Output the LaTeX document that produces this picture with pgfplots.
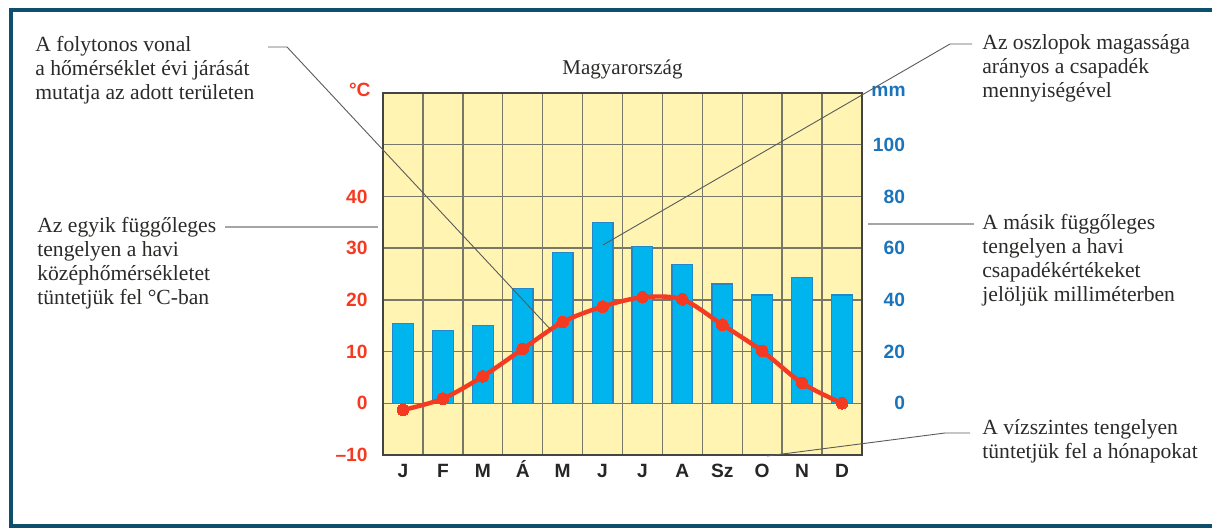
\documentclass[border=0pt]{standalone}
\usepackage{pgfplots}
\pgfplotsset{compat=1.18}
\usepackage{pgfplotstable}
\usepackage{fontspec}
\setmainfont{Liberation Serif}
\setsansfont{Liberation Sans}
\definecolor{tred}{HTML}{F53A22}
\definecolor{pblue}{HTML}{1A74BB}
\definecolor{barfill}{HTML}{00B5EE}
\definecolor{barline}{HTML}{2388C9}
\definecolor{bgc}{HTML}{FFF4B2}
\definecolor{gridc}{HTML}{77776A}
\definecolor{axc}{HTML}{444444}
\definecolor{framec}{HTML}{0E4F6E}
\definecolor{txt}{HTML}{2B2A29}
\definecolor{leadc}{HTML}{5A5A5A}
\definecolor{leadl}{HTML}{A5A5A5}
\pgfplotstableread{
m t p
0 -1.3 30.7
1 0.9 28.3
2 5.2 30.2
3 10.5 44.4
4 15.7 58.3
5 18.7 69.8
6 20.5 60.5
7 20.1 53.6
8 15.2 46.1
9 10.1 41.9
10 3.9 48.6
11 0.0 41.9
}\climate
\begin{document}
\begin{tikzpicture}
\path[use as bounding box] (0pt,0pt) rectangle (606pt,-264pt);
% precipitation axis (background, grid, bars)
\begin{axis}[
  at={(191.5pt,-227.5pt)}, anchor=south west,
  scale only axis, width=239.5pt, height=181pt,
  xmin=-0.5, xmax=11.5, ymin=-20, ymax=120,
  axis background/.style={fill=bgc},
  axis line style={draw=none},
  xtick={0.5,1.5,...,10.5}, xticklabels={},
  xmajorgrids, ymajorgrids,
  grid style={draw=gridc, line width=0.7pt},
  ytick={0,20,...,100},
  yticklabel pos=right,
  yticklabels={0,20,40,60,80,100},
  yticklabel style={anchor=east, inner sep=0pt, xshift=21.7pt, font=\fontsize{9.6}{10}\sffamily\bfseries, text=pblue},
  major tick length=0pt,
  tick style={draw=none},
]
\addplot[ybar, bar width=0.52, fill=barfill, draw=barline, line width=0.6pt] table[x=m,y=p]{\climate};
\end{axis}
% temperature axis
\begin{axis}[
  at={(191.5pt,-227.5pt)}, anchor=south west,
  scale only axis, width=239.5pt, height=181pt,
  xmin=-0.5, xmax=11.5, ymin=-10, ymax=60,
  axis line style={draw=axc, line width=1.2pt},
  xtick={0,...,11},
  xticklabels={J,F,M,Á,M,J,J,A,Sz,O,N,D},
  xticklabel style={anchor=base, inner sep=0pt, yshift=-11.5pt, font=\fontsize{9.6}{10}\sffamily\bfseries, text=black!85},
  ytick={-10,0,...,40},
  yticklabels={–10,0,10,20,30,40},
  yticklabel style={anchor=east, inner sep=0pt, xshift=-7.5pt, font=\fontsize{9.6}{10}\sffamily\bfseries, text=tred},
  major tick length=0pt,
  tick style={draw=none},
  clip=false,
]
\addplot[smooth, draw=tred, line width=2.2pt, mark=*, mark size=2.9pt, mark options={fill=tred, draw=tred, line width=0pt}] table[x=m,y=t]{\climate};
\end{axis}
\begin{scope}[x=0.5pt,y=-0.5pt]
% outer frame
\draw[framec, line width=2pt] (1212,10) -- (10.5,10) -- (10.5,526) -- (1212,526);
% title and unit labels
\node[anchor=base, inner sep=0pt, font=\fontsize{10.5}{12}\selectfont, text=txt] at (622.5,75) {Magyarország};
\node[anchor=base east, inner sep=0pt, font=\fontsize{9.6}{10}\sffamily\bfseries, text=tred] at (371,97) {°C};
\node[anchor=base east, inner sep=0pt, font=\fontsize{9.6}{10}\sffamily\bfseries, text=pblue] at (906,97) {mm};
% leaders
\draw[leadc, line width=0.45pt] (268,47) -- (287,47) -- (551,330);
\draw[leadl, line width=1pt] (225,227) -- (378,227);
\draw[leadc, line width=0.45pt] (972,44) -- (950,44) -- (603,245);
\draw[leadl, line width=1pt] (868,224) -- (974,224);
\draw[leadc, line width=0.45pt] (970,433) -- (945,433) -- (767,456);
% annotation texts (anchor at last line's baseline)
\node[anchor=base west, inner sep=0pt, align=left, font=\fontsize{10.8}{12.1}\selectfont, text=txt] at (35,100) {A folytonos vonal\\a hőmérséklet évi járását\\mutatja az adott területen};
\node[anchor=base west, inner sep=0pt, align=left, font=\fontsize{10.8}{12.1}\selectfont, text=txt] at (37,305) {Az egyik függőleges\\tengelyen a havi\\középhőmérsékletet\\tüntetjük fel °C-ban};
\node[anchor=base west, inner sep=0pt, align=left, font=\fontsize{10.8}{12.1}\selectfont, text=txt] at (982,98) {Az oszlopok magassága\\arányos a csapadék\\mennyiségével};
\node[anchor=base west, inner sep=0pt, align=left, font=\fontsize{10.8}{12.1}\selectfont, text=txt] at (982,302) {A másik függőleges\\tengelyen a havi\\csapadékértékeket\\jelöljük milliméterben};
\node[anchor=base west, inner sep=0pt, align=left, font=\fontsize{10.8}{12.1}\selectfont, text=txt] at (982,459) {A vízszintes tengelyen\\tüntetjük fel a hónapokat};
\end{scope}
\end{tikzpicture}
\end{document}
